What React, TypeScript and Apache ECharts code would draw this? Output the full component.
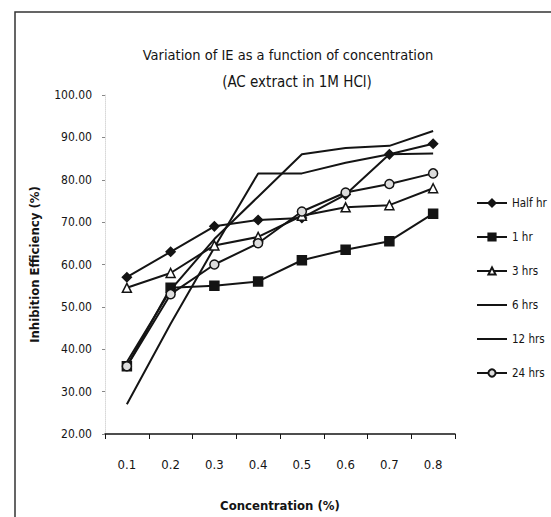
import React, { useEffect, useRef } from "react";
import * as echarts from "echarts";

const categories = ["0.1", "0.2", "0.3", "0.4", "0.5", "0.6", "0.7", "0.8"];
const seriesNames = ["Half hr", "1 hr", "3 hrs", "6 hrs", "12 hrs", "24 hrs"];
const halfHr = [57, 63, 69, 70.5, 71, 76.5, 86, 88.5];
const oneHr = [36, 54.5, 55, 56, 61, 63.5, 65.5, 72];
const threeHrs = [54.5, 58, 64.5, 66.5, 71.5, 73.5, 74, 78];
const sixHrs = [37, 54, 66, 76, 86, 87.5, 88, 91.5];
const twelveHrs = [27, 46, 64, 81.5, 81.5, 84, 86, 86.2];
const twentyFourHrs = [36, 53, 60, 65, 72.5, 77, 79, 81.5];
const yTicks = { min: 20, max: 100, interval: 10 };

const FONT = "'Liberation Sans Narrow', 'DejaVu Sans Condensed', 'Noto Sans', sans-serif";
const INK = "#141414";

export default function App() {
  const ref = useRef<HTMLDivElement>(null);
  useEffect(() => {
    if (!ref.current) return;
    const chart = echarts.init(ref.current, undefined, { renderer: "svg" });
    const mk = (name: string, data: number[], symbol: string, size: number, fill: string) => ({
      name,
      type: "line",
      data,
      symbol,
      symbolSize: size,
      showSymbol: symbol !== "none",
      lineStyle: { color: INK, width: 2 },
      itemStyle:
        symbol === "none"
          ? { color: "rgba(0,0,0,0)", borderWidth: 0 }
          : { color: fill, borderColor: INK, borderWidth: 1.5 },
    });
    chart.setOption({
      animation: false,
      backgroundColor: "#ffffff",
      textStyle: { fontFamily: FONT, color: INK },
      grid: { left: 105, right: 96, top: 95, bottom: 77 },
      graphic: [
        {
          type: "rect",
          shape: { x: 15, y: 12, width: 600, height: 600 },
          style: { fill: "none", stroke: "#333", lineWidth: 1.5 },
          silent: true,
        },
        {
          type: "text",
          x: 288,
          y: 55,
          style: {
            text: "Variation of IE as a function of concentration",
            fill: INK,
            font: `14.5px ${FONT}`,
            textAlign: "center",
            textVerticalAlign: "middle",
            align: "center",
            verticalAlign: "middle",
          },
        },
        {
          type: "text",
          x: 297,
          y: 82,
          style: {
            text: "(AC extract in 1M HCl)",
            fill: INK,
            font: `15px ${FONT}`,
            textAlign: "center",
            textVerticalAlign: "middle",
            align: "center",
            verticalAlign: "middle",
          },
        },
      ],
      legend: {
        orient: "vertical",
        left: 471,
        top: 192,
        itemWidth: 30,
        itemHeight: 9,
        itemGap: 22,
        textStyle: { fontFamily: FONT, fontSize: 11.5, color: INK },
        data: seriesNames,
      },
      xAxis: {
        type: "category",
        data: categories,
        boundaryGap: true,
        name: "Concentration (%)",
        nameLocation: "middle",
        nameGap: 65,
        nameTextStyle: { fontFamily: FONT, fontSize: 13, fontWeight: "bold", color: INK },
        axisLine: { lineStyle: { color: INK, width: 1.5 } },
        axisTick: { show: true, length: 5, lineStyle: { color: INK } },
        axisLabel: { fontFamily: FONT, fontSize: 13, color: INK, margin: 24 },
        splitLine: { show: false },
      },
      yAxis: {
        type: "value",
        min: yTicks.min,
        max: yTicks.max,
        interval: yTicks.interval,
        name: "Inhibition Efficiency (%)",
        nameLocation: "middle",
        nameGap: 64,
        nameRotate: 90,
        nameTextStyle: { fontFamily: FONT, fontSize: 13, fontWeight: "bold", color: INK },
        axisLine: { show: true, lineStyle: { color: "#d8d8d8", width: 1, type: "dotted" } },
        axisTick: { show: true, length: 3, lineStyle: { color: "#888" } },
        axisLabel: {
          fontFamily: FONT,
          fontSize: 12,
          color: INK,
          margin: 13,
          formatter: (v: number) => v.toFixed(2),
        },
        splitLine: { show: false },
      },
      series: [
        mk(seriesNames[0], halfHr, "diamond", 9, INK),
        mk(seriesNames[1], oneHr, "rect", 9, INK),
        mk(seriesNames[2], threeHrs, "triangle", 9, "#ffffff"),
        mk(seriesNames[3], sixHrs, "none", 0, INK),
        mk(seriesNames[4], twelveHrs, "none", 0, INK),
        mk(seriesNames[5], twentyFourHrs, "circle", 9, "#dddddd"),
      ],
    });
    return () => chart.dispose();
  }, []);
  return (
    <div
      ref={ref}
      style={{ position: "fixed", left: 0, top: 0, width: 551, height: 517 }}
    />
  );
}
